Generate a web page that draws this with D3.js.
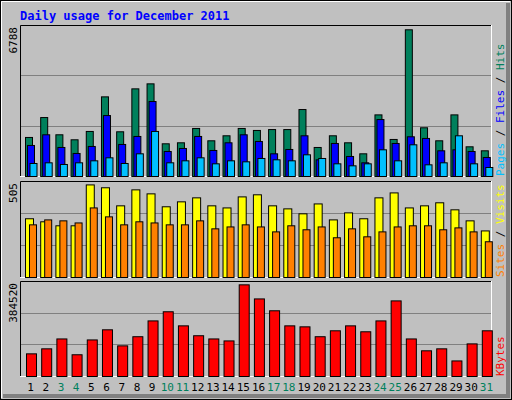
<!DOCTYPE html>
<html><head><meta charset="utf-8">
<script src="https://cdn.jsdelivr.net/npm/d3@7"></script>
<style>body{margin:0;background:#fff}svg{display:block}</style>
</head><body>
<script>
const days = d3.range(1, 32);
const weekends = [3,4,10,11,17,18,24,25,31];
const hits  = [1755,2650,1875,1650,2025,3580,2010,3940,4165,1470,1515,2160,1605,1830,2160,2070,2110,2110,3010,1305,1830,1515,1020,2770,1665,6595,2190,1605,2770,1335,1155];
const files = [1395,1875,1305,1035,1350,2740,1440,1800,3370,1125,1260,1800,1170,1515,1875,1575,1020,1215,1830,750,1485,900,615,2560,1485,1785,1710,1155,1200,1125,855];
const pages = [585,615,540,615,705,840,585,1020,2025,615,705,840,570,705,660,810,750,705,975,810,570,480,570,1200,705,1425,525,615,1830,570,405];
const visits = [309,293,272,272,487,472,377,461,440,372,398,419,377,366,424,435,377,361,335,387,303,340,309,419,445,366,377,393,356,298,245];
const sites  = [277,303,298,287,366,319,277,293,287,277,277,298,256,266,277,266,240,272,251,266,209,256,214,240,266,272,272,251,261,240,188];
const kbytes = [91700,112000,152000,88000,148000,189000,124000,161000,225000,262000,205000,165000,152000,144000,371000,314000,266000,205000,201000,161000,185000,205000,181000,225000,306000,152000,104000,112000,63000,132000,185000];
const maxHits = 6788, maxVisits = 505, maxKB = 384520;

const W = 512, H = 400;
const svg = d3.select("body").append("svg").attr("width", W).attr("height", H);
const font = "'DejaVu Sans Mono', monospace";

// frame
svg.append("rect").attr("x",0).attr("y",0).attr("width",W).attr("height",H).attr("fill","#c0c0c0");
svg.append("rect").attr("x",0.5).attr("y",0.5).attr("width",W-1).attr("height",H-1).attr("fill","none").attr("stroke","#000");
svg.append("path").attr("d",`M1.5,${H-2}V1.5H${W-2}`).attr("stroke","#fff").attr("fill","none");
svg.append("path").attr("d",`M${W-4},3V${H-4}H3`).attr("stroke","#808080").attr("stroke-width",4).attr("fill","none");

svg.append("text").attr("x",20).attr("y",20).attr("fill","#0000ff").attr("font-family",font)
  .attr("font-weight","bold").attr("font-size",12).text("Daily usage for December 2011");

const x = d3.scaleBand().domain(days).range([20,491]).paddingInner(0).paddingOuter(0);

function panel(top, bottom, max) {
  const y = d3.scaleLinear().domain([0, max]).range([bottom, top]);
  const g = svg.append("g");
  [1/3, 2/3].forEach(f => g.append("line").attr("x1",20).attr("x2",491)
      .attr("y1", Math.round(bottom-(bottom-top)*f)+0.5).attr("y2", Math.round(bottom-(bottom-top)*f)+0.5)
      .attr("stroke","#808080"));
  g.append("path").attr("d",`M20.5,${bottom}V${top+0.5}H491`).attr("stroke","#000").attr("fill","none");
  g.append("path").attr("d",`M491.5,${top}V${bottom+0.5}H20`).attr("stroke","#fff").attr("fill","none");
  svg.append("text").attr("transform",`translate(17,${top+2}) rotate(-90)`).attr("text-anchor","end")
    .attr("font-family",font).attr("font-size",11).attr("fill","#000").text(max);
  return y;
}
function bars(vals, y, off, w, color) {
  svg.append("g").selectAll("rect").data(vals).join("rect")
    .attr("x",(d,i)=>x(days[i])+off+0.5).attr("width",w)
    .attr("y",d=>y(d)+0.5).attr("height",d=>y(0)-y(d))
    .attr("fill",color).attr("stroke","#000");
}
function sideLabel(parts, yStart) {
  const t = svg.append("text").attr("transform",`translate(504,${yStart}) rotate(-90)`)
    .attr("font-family",font).attr("font-size",11);
  parts.forEach(p => t.append("tspan").attr("fill",p[1]).text(p[0]));
}

const y1 = panel(25, 176, maxHits);
bars(hits, y1, 5, 7, "#00805c");
bars(files, y1, 7, 7, "#0000ff");
bars(pages, y1, 9.5, 7, "#00c0ff");
sideLabel([["Pages","#00c0ff"],[" / ","#000"],["Files","#0000ff"],[" / ","#000"],["Hits","#00805c"]], 176);

const y2 = panel(181, 277, maxVisits);
bars(visits, y2, 5, 8, "#ffff00");
bars(sites, y2, 9, 7, "#ff8000");
sideLabel([["Sites","#ff8000"],[" / ","#000"],["Visits","#ffff00"]], 277);

const y3 = panel(281, 376, maxKB);
bars(kbytes, y3, 6, 10, "#ff0000");
sideLabel([["KBytes","#ff0000"]], 376);

svg.append("g").selectAll("text").data(days).join("text")
  .attr("x",d=>x(d)+x.bandwidth()/2+3).attr("y",391).attr("text-anchor","middle")
  .attr("font-family",font).attr("font-size",11)
  .attr("fill",d=>weekends.includes(d)?"#00805c":"#000").text(d=>d);
</script>
</body></html>
